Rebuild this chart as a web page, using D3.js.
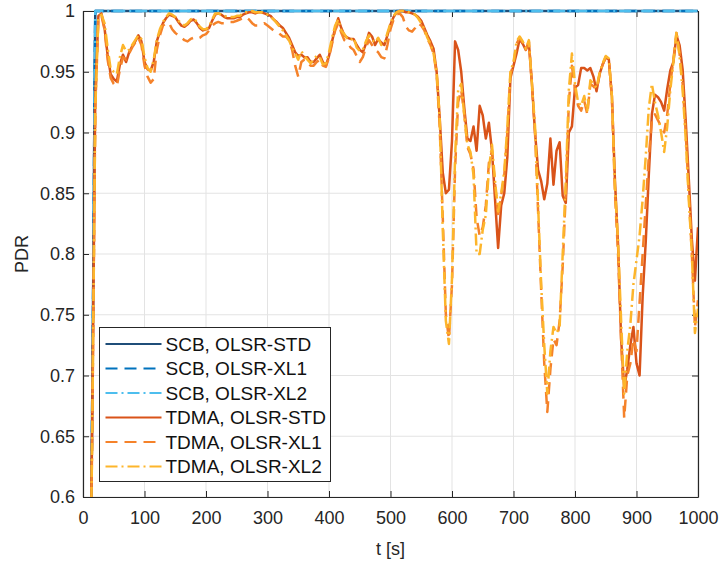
<!DOCTYPE html>
<html>
<head>
<meta charset="utf-8">
<script src="https://cdn.jsdelivr.net/npm/d3@7"></script>
<style>
  html, body { margin: 0; padding: 0; background: #fff; }
  svg { display: block; font-family: "Liberation Sans", Arial, Helvetica, sans-serif; }
  .axis path, .axis line { stroke: #262626; }
  .axis text { fill: #262626; font-size: 18px; }
</style>
</head>
<body>
<svg id="chart" width="724" height="562"></svg>
<script>
// sample step of the TDMA traces, seconds
const timeStep = 5

const xTicks = [0, 100, 200, 300, 400, 500, 600, 700, 800, 900, 1000]
const yTicks = [0.6, 0.65, 0.7, 0.75, 0.8, 0.85, 0.9, 0.95, 1]

// SCB runs stay at 1 after the start-up ramp
const scbTime = [0, 10, 14, 17, 19, 20, 1000]
const scbStd = [0.2, 0.45, 0.62, 0.8, 0.95, 1, 1]
const scbXl1 = [0.2, 0.45, 0.62, 0.8, 0.95, 1, 1]
const scbXl2 = [0.2, 0.45, 0.62, 0.8, 0.95, 1, 1]

// TDMA runs, one value every 5 s from 0 to 1000 s
const tdmaStd = [
  0.2, 0.3, 0.45, 0.66, 0.93, 0.996, 0.998, 0.986, 0.964, 0.948,
  0.944, 0.942, 0.956, 0.964, 0.958, 0.966, 0.971, 0.975, 0.98, 0.975,
  0.958, 0.952, 0.951, 0.958, 0.975, 0.983, 0.99, 0.994, 0.997, 0.996,
  0.995, 0.991, 0.988, 0.987, 0.989, 0.992, 0.993, 0.99, 0.986, 0.984,
  0.985, 0.986, 0.992, 0.997, 0.998, 0.997, 0.995, 0.994, 0.994, 0.994,
  0.995, 0.995, 0.997, 0.998, 0.999, 0.999, 0.998, 0.999, 0.999, 0.998,
  0.997, 0.996, 0.993, 0.991, 0.988, 0.986, 0.982, 0.978, 0.972, 0.966,
  0.963, 0.964, 0.962, 0.962, 0.958, 0.958, 0.961, 0.964, 0.958, 0.955,
  0.963, 0.975, 0.986, 0.994, 0.986, 0.98, 0.978, 0.977, 0.977, 0.972,
  0.968, 0.966, 0.973, 0.982, 0.979, 0.972, 0.977, 0.974, 0.972, 0.98,
  0.989, 0.995, 0.999, 1.0, 1.0, 0.999, 0.999, 0.998, 0.997, 0.995,
  0.992, 0.986, 0.98, 0.975, 0.969, 0.95, 0.912, 0.867, 0.85, 0.853,
  0.893, 0.975, 0.968, 0.95, 0.92, 0.895, 0.893, 0.905, 0.885, 0.922,
  0.914, 0.895, 0.908, 0.885, 0.845, 0.805, 0.84, 0.85, 0.88, 0.945,
  0.955, 0.965, 0.977, 0.973, 0.968, 0.974, 0.94, 0.9, 0.869, 0.86,
  0.845, 0.858, 0.895, 0.857, 0.885, 0.892, 0.848, 0.842, 0.9, 0.905,
  0.937, 0.939, 0.953, 0.953, 0.951, 0.953, 0.946, 0.934, 0.948, 0.956,
  0.962, 0.96, 0.93, 0.86, 0.808, 0.73, 0.69, 0.705, 0.725, 0.74,
  0.71, 0.7, 0.765, 0.81, 0.865, 0.915, 0.931, 0.929, 0.925, 0.918,
  0.936, 0.951, 0.958, 0.98, 0.972, 0.952, 0.91, 0.862, 0.812, 0.778,
  0.822,
]
const tdmaXl1 = [
  0.2, 0.3, 0.45, 0.65, 0.92, 0.993, 0.996, 0.985, 0.96, 0.945,
  0.94, 0.938, 0.952, 0.962, 0.96, 0.965, 0.97, 0.974, 0.978, 0.972,
  0.955, 0.946, 0.941, 0.944, 0.968, 0.98, 0.988, 0.99, 0.99, 0.985,
  0.982, 0.98, 0.978, 0.976, 0.975, 0.977, 0.978, 0.977, 0.978, 0.98,
  0.981, 0.984, 0.988, 0.99, 0.991, 0.99, 0.99, 0.991, 0.991, 0.991,
  0.992, 0.993, 0.994, 0.995, 0.993, 0.99, 0.988, 0.988, 0.989, 0.99,
  0.988, 0.986, 0.984, 0.983, 0.981, 0.979, 0.979, 0.976, 0.968, 0.955,
  0.946, 0.958, 0.96, 0.958, 0.955, 0.955, 0.958, 0.96, 0.955, 0.954,
  0.962, 0.973, 0.984, 0.99, 0.982, 0.976, 0.974, 0.97, 0.968, 0.963,
  0.958, 0.962, 0.97, 0.976, 0.972, 0.968, 0.966, 0.962, 0.961, 0.972,
  0.985, 0.993, 0.997, 0.998, 0.995, 0.987, 0.984, 0.983, 0.986, 0.99,
  0.988, 0.984, 0.977, 0.972, 0.965, 0.948, 0.905, 0.83, 0.75, 0.73,
  0.775, 0.87, 0.925, 0.935, 0.915, 0.888, 0.882, 0.87, 0.83, 0.815,
  0.822, 0.84, 0.875, 0.885, 0.858, 0.83, 0.848, 0.865, 0.9, 0.948,
  0.956, 0.973, 0.978, 0.974, 0.968, 0.975, 0.938, 0.9, 0.835, 0.77,
  0.71, 0.67, 0.705, 0.73, 0.725, 0.745, 0.79, 0.85, 0.925, 0.955,
  0.935, 0.922, 0.918, 0.926, 0.915, 0.94, 0.938, 0.935, 0.948, 0.956,
  0.962, 0.96, 0.928, 0.85, 0.8, 0.73, 0.665, 0.7, 0.71, 0.73,
  0.72, 0.76, 0.8, 0.84, 0.88, 0.91, 0.915, 0.91, 0.905, 0.9,
  0.915, 0.94, 0.96, 0.982, 0.965, 0.94, 0.9, 0.85, 0.8, 0.74,
  0.762,
]
const tdmaXl2 = [
  0.2, 0.3, 0.45, 0.65, 0.92, 0.995, 0.997, 0.99, 0.97, 0.952,
  0.95, 0.948, 0.962, 0.972, 0.967, 0.968, 0.972, 0.976, 0.98, 0.977,
  0.962, 0.953, 0.95, 0.96, 0.976, 0.985, 0.991, 0.995, 0.998, 0.997,
  0.995, 0.992, 0.99, 0.988, 0.99, 0.993, 0.994, 0.991, 0.987, 0.985,
  0.985, 0.987, 0.993, 0.998, 0.998, 0.997, 0.996, 0.995, 0.995, 0.995,
  0.996, 0.996, 0.998, 0.999, 0.999, 1.0, 0.999, 0.999, 0.999, 0.998,
  0.997, 0.995, 0.993, 0.99, 0.987, 0.984, 0.98, 0.976, 0.97, 0.965,
  0.96, 0.967, 0.963, 0.96, 0.957, 0.96, 0.963, 0.962, 0.956, 0.957,
  0.966, 0.978, 0.988, 0.993, 0.984, 0.981, 0.977, 0.976, 0.978, 0.97,
  0.967, 0.968, 0.975, 0.98, 0.976, 0.974, 0.978, 0.972, 0.973, 0.982,
  0.99, 0.996, 0.999, 1.0, 1.0, 1.0, 0.999, 0.998, 0.997, 0.994,
  0.99, 0.985, 0.978, 0.973, 0.965, 0.95, 0.912, 0.82, 0.745, 0.726,
  0.78, 0.88, 0.935, 0.94, 0.914, 0.89, 0.884, 0.865, 0.8, 0.8,
  0.82, 0.832, 0.87, 0.89, 0.86, 0.835, 0.85, 0.868, 0.905, 0.95,
  0.958, 0.975, 0.979, 0.975, 0.969, 0.976, 0.94, 0.905, 0.84, 0.775,
  0.725, 0.685, 0.72, 0.74, 0.735, 0.74, 0.8, 0.86, 0.935, 0.965,
  0.94, 0.925, 0.922, 0.93, 0.918, 0.943, 0.94, 0.937, 0.949, 0.957,
  0.963, 0.961, 0.93, 0.855, 0.81, 0.745, 0.685, 0.72, 0.742, 0.775,
  0.795, 0.815, 0.845, 0.88, 0.92, 0.94, 0.925, 0.914, 0.9, 0.884,
  0.905, 0.935, 0.958, 0.983, 0.963, 0.935, 0.895, 0.845, 0.8, 0.735,
  0.755,
]

const seriesNames = [
  'SCB, OLSR-STD', 'SCB, OLSR-XL1', 'SCB, OLSR-XL2',
  'TDMA, OLSR-STD', 'TDMA, OLSR-XL1', 'TDMA, OLSR-XL2',
]

const colors = ['#1f4e79', '#0072bd', '#4dbeee', '#d95319', '#f5822a', '#fdb52b']
const dashes = [null, '12,7', '12,4,2,4', null, '12,7', '12,4,2,4']

const series = [
  scbTime.map((t, i) => [t, scbStd[i]]),
  scbTime.map((t, i) => [t, scbXl1[i]]),
  scbTime.map((t, i) => [t, scbXl2[i]]),
  tdmaStd.map((v, i) => [i * timeStep, v]),
  tdmaXl1.map((v, i) => [i * timeStep, v]),
  tdmaXl2.map((v, i) => [i * timeStep, v]),
]

const svg = d3.select('#chart')
const margin = {top: 11, right: 26, bottom: 65, left: 83}
const width = 724 - margin.left - margin.right
const height = 562 - margin.top - margin.bottom

const x = d3.scaleLinear().domain([0, 1000]).range([0, width])
const y = d3.scaleLinear().domain([0.6, 1]).range([height, 0])

const g = svg.append('g').attr('transform', `translate(${margin.left}, ${margin.top})`)

// grid
g.append('g')
  .selectAll('line')
  .data(xTicks)
  .join('line')
  .attr('x1', (d) => x(d)).attr('x2', (d) => x(d))
  .attr('y1', 0).attr('y2', height)
  .attr('stroke', '#e3e3e3')
g.append('g')
  .selectAll('line')
  .data(yTicks)
  .join('line')
  .attr('x1', 0).attr('x2', width)
  .attr('y1', (d) => y(d)).attr('y2', (d) => y(d))
  .attr('stroke', '#e3e3e3')

// axes, ticks pointing inwards on all four sides
const fmt = (d) => String(+d.toFixed(2))
g.append('g')
  .attr('class', 'axis')
  .attr('transform', `translate(0, ${height})`)
  .call(d3.axisBottom(x).tickValues(xTicks).tickFormat(fmt).tickSizeInner(-6).tickSizeOuter(0).tickPadding(14))
g.append('g')
  .attr('class', 'axis')
  .call(d3.axisLeft(y).tickValues(yTicks).tickFormat(fmt).tickSizeInner(-6).tickSizeOuter(0).tickPadding(8))
g.append('g')
  .attr('class', 'axis')
  .call(d3.axisTop(x).tickValues(xTicks).tickFormat('').tickSizeInner(-6).tickSizeOuter(0))
g.append('g')
  .attr('class', 'axis')
  .attr('transform', `translate(${width}, 0)`)
  .call(d3.axisRight(y).tickValues(yTicks).tickFormat('').tickSizeInner(-6).tickSizeOuter(0))

g.selectAll('.axis .domain').attr('stroke-width', 1.2)

// data
svg.append('defs')
  .append('clipPath')
  .attr('id', 'plot-clip')
  .append('rect')
  .attr('x', 0).attr('y', -4)
  .attr('width', width).attr('height', height + 4)

const line = d3.line().x((d) => x(d[0])).y((d) => y(d[1]))

g.append('g')
  .attr('clip-path', 'url(#plot-clip)')
  .selectAll('path')
  .data(series)
  .join('path')
  .attr('d', line)
  .attr('fill', 'none')
  .attr('stroke', (d, i) => colors[i])
  .attr('stroke-width', 2.5)
  .attr('stroke-dasharray', (d, i) => dashes[i])
  .attr('stroke-linejoin', 'round')

// axis labels
svg.append('text')
  .attr('x', margin.left + width / 2)
  .attr('y', 555)
  .attr('text-anchor', 'middle')
  .attr('fill', '#262626')
  .style('font-size', '18px')
  .text('t [s]')

svg.append('text')
  .attr('transform', `translate(28, ${margin.top + height / 2}) rotate(-90)`)
  .attr('text-anchor', 'middle')
  .attr('fill', '#262626')
  .style('font-size', '18px')
  .text('PDR')

// legend
const legend = svg.append('g').attr('transform', 'translate(99.5, 327.5)')
legend.append('rect')
  .attr('width', 231).attr('height', 154)
  .attr('fill', '#fff')
  .attr('stroke', '#262626')
  .attr('stroke-width', 1)

const rows = legend.selectAll('.row')
  .data(seriesNames)
  .join('g')
  .attr('class', 'row')
  .attr('transform', (d, i) => `translate(0, ${16.5 + i * 24.5})`)

rows.append('line')
  .attr('x1', 6).attr('x2', 62)
  .attr('stroke', (d, i) => colors[i])
  .attr('stroke-width', 2.2)
  .attr('stroke-dasharray', (d, i) => dashes[i])

rows.append('text')
  .attr('x', 66)
  .attr('dy', '0.36em')
  .attr('fill', '#111')
  .style('font-size', '19px')
  .text((d) => d)
</script>
</body>
</html>
